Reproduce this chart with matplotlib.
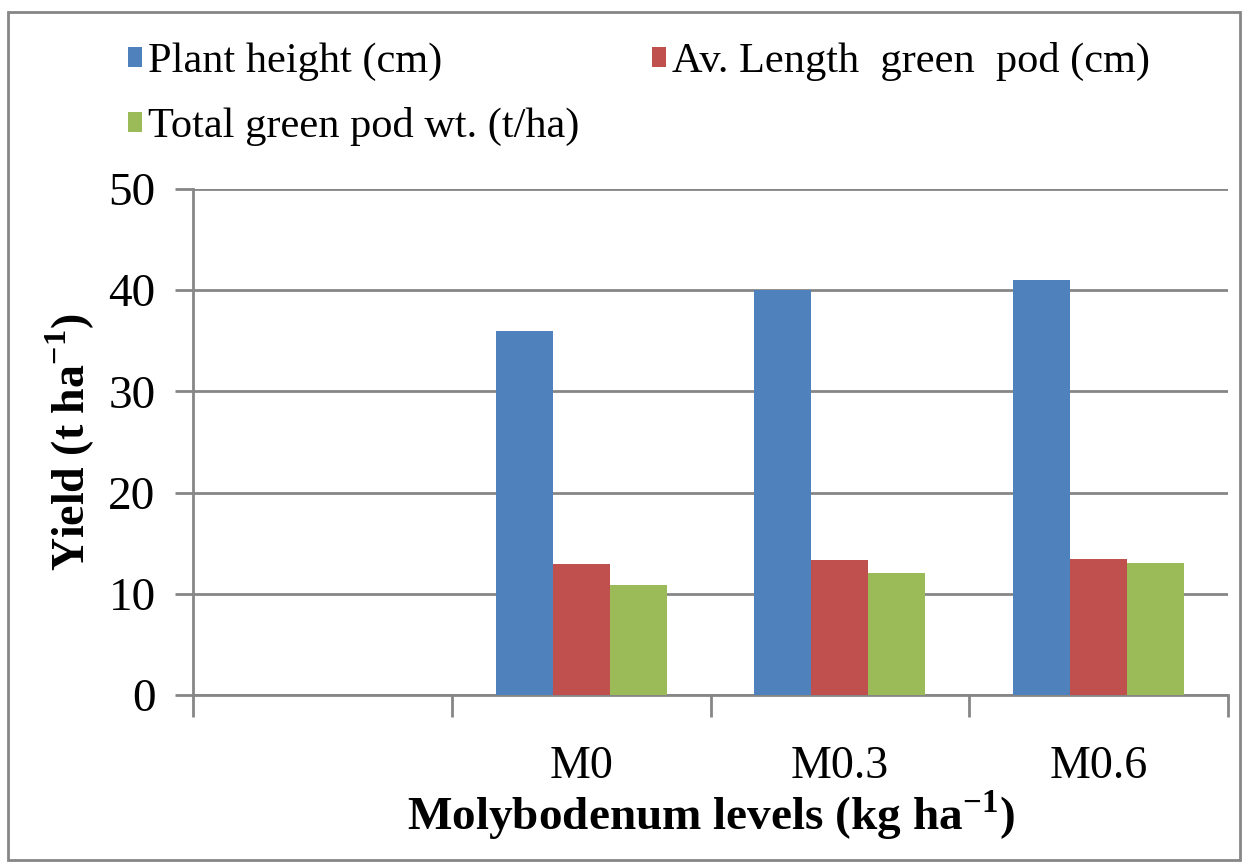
import numpy as np
import matplotlib.pyplot as plt
from matplotlib.patches import Rectangle

plt.rcParams['font.family'] = ['Liberation Serif', 'DejaVu Serif']
plt.rcParams['mathtext.fontset'] = 'custom'
plt.rcParams['mathtext.rm'] = 'Liberation Serif'
plt.rcParams['mathtext.bf'] = 'Liberation Serif:bold'

categories = ['', 'M0', 'M0.3', 'M0.6']
plant_height = [np.nan, 36.0, 40.0, 41.0]
pod_length = [np.nan, 12.9, 13.3, 13.4]
pod_weight = [np.nan, 10.9, 12.1, 13.0]

series_names = ['Plant height (cm)', 'Av. Length  green  pod (cm)',
                'Total green pod wt. (t/ha)']
colors = ['#4f81bd', '#c0504d', '#9bbb59']

grid_col = '#868686'

fig = plt.figure(figsize=(12.47, 8.66), dpi=100)
ax = fig.add_axes([193 / 1247, 1 - 695 / 866, 1035 / 1247, 506 / 866])

x = np.arange(len(categories))
w = 0.22
bars = []
for i, vals in enumerate([plant_height, pod_length, pod_weight]):
    b = ax.bar(x + (i - 1) * w, vals, width=w, color=colors[i],
               label=series_names[i], zorder=3)
    bars.append(b)

ax.set_xlim(-0.5, len(categories) - 0.5)
ax.set_ylim(0, 50)
ax.set_yticks(np.arange(0, 51, 10))
ax.yaxis.grid(True, color=grid_col, linewidth=2, zorder=0)

ax.set_xticks(x)
ax.set_xticklabels(categories, fontsize=33)
ax.set_xticks(np.arange(-0.5, len(categories), 1), minor=True)
ax.tick_params(axis='x', which='major', length=0, pad=36)
ax.tick_params(axis='x', which='minor', length=16, width=2, color=grid_col,
               direction='out')
ax.tick_params(axis='y', length=13, width=2, color=grid_col, labelsize=34,
               pad=14)

for s in ['top', 'right']:
    ax.spines[s].set_visible(False)
for s in ['left', 'bottom']:
    ax.spines[s].set_color(grid_col)
    ax.spines[s].set_linewidth(2)

ax.set_xlabel(r'Molybodenum levels (kg ha$^{\mathbf{-1}}$)', fontsize=34,
              fontweight='bold')
ax.set_ylabel(r'Yield (t ha$^{\mathbf{-1}}$)', fontsize=33, fontweight='bold')
ax.xaxis.set_label_coords(0.5, -0.185)
ax.yaxis.set_label_coords(-0.093, 0.5)

# legend: row-major order like the original
handles = [bars[0], bars[2], bars[1]]
labels = [series_names[0], series_names[2], series_names[1]]
fig.legend(handles, labels, ncol=2, loc='upper left',
           bbox_to_anchor=(128 / 1247, 1 - 42 / 866), frameon=False,
           fontsize=30.5, handlelength=0.33, handleheight=0.33,
           handletextpad=0.14, columnspacing=1.72, labelspacing=0.62,
           borderpad=0, borderaxespad=0)

# outer chart border
fig.patches.append(Rectangle((8 / 1247, 6 / 866), 1232 / 1247, 848 / 866,
                             transform=fig.transFigure, fill=False,
                             edgecolor=grid_col, linewidth=2))

fig.savefig('out.png', dpi=100, facecolor='white')
